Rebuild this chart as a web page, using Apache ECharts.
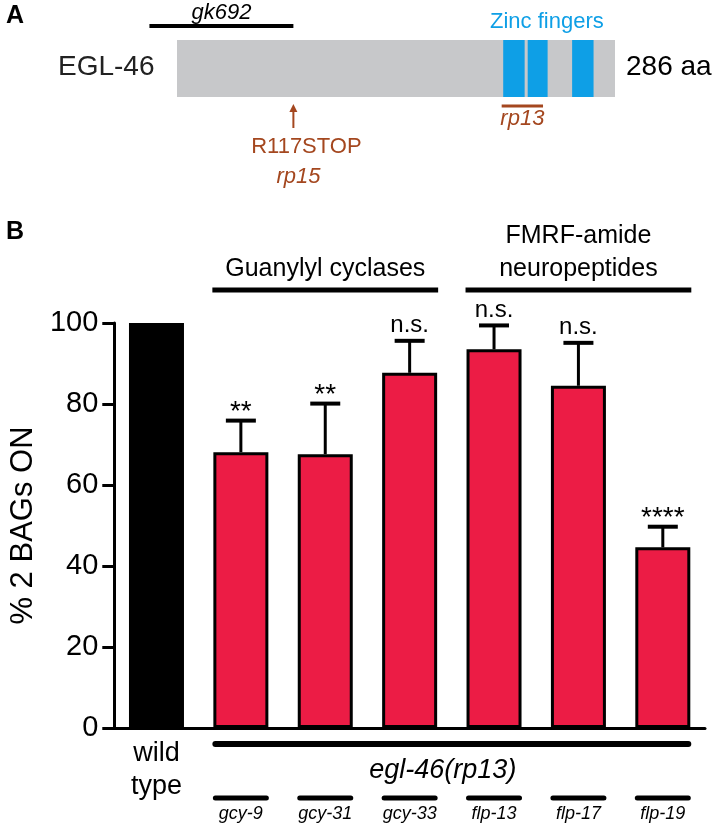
<!DOCTYPE html>
<html><head><meta charset="utf-8">
<script src="https://cdn.jsdelivr.net/npm/echarts@6/dist/echarts.min.js"></script>
<style>html,body{margin:0;padding:0;background:#fff}#c{width:717px;height:826px}</style>
</head><body><div id="c"></div>
<script>
// ---------- Panel B data ----------
const categories = ['wild type', 'gcy-9', 'gcy-31', 'gcy-33', 'flp-13', 'flp-17', 'flp-19'];
const percentOn = [100, 68.1, 67.6, 87.7, 93.5, 84.5, 44.6];
const sem = [0, 7.8, 12.5, 7.9, 5.9, 10.6, 5.1];
const significance = ['', '**', '**', 'n.s.', 'n.s.', 'n.s.', '****'];
const yTicks = [0, 20, 40, 60, 80, 100];
const groupNames = ['Guanylyl cyclases', 'FMRF-amide\nneuropeptides'];
const groupFrom = [1, 4];
const groupTo = [3, 6];
const backgroundName = 'egl-46(rp13)';
const wildTypeLabel = 'wild\ntype';
// ---------- Panel A data (positions along EGL-46, aa) ----------
const proteinName = 'EGL-46';
const proteinLength = 286;
const zincStart = [213, 229, 258];
const zincEnd = [227, 242, 272];
const gk692Range = [-18, 76];
const rp13Range = [212, 239];
const r117Position = 76;

const FONT = '"Liberation Sans", Arial, Helvetica, sans-serif';
const RED = '#EC1C45';
const BLUE = '#0E9FE6';
const BROWN = '#A4471F';
const GREY = '#C7C8CA';
const HALF = 28.5;

const chart = echarts.init(document.getElementById('c'), null, {renderer: 'canvas'});

const domains = [[0, proteinLength, 'protein']].concat(zincStart.map((s, i) => [s, zincEnd[i], 'zinc']));

const option = {
  animation: false,
  backgroundColor: '#fff',
  textStyle: {fontFamily: FONT},
  grid: [
    {left: 100, right: 12, top: 323, bottom: 98},
    {left: 177, width: 438, top: 40, height: 57}
  ],
  xAxis: [
    {type: 'category', gridIndex: 0, data: categories,
     axisLine: {lineStyle: {color: '#000', width: 3}},
     axisTick: {show: false}, axisLabel: {show: false}},
    {type: 'value', gridIndex: 1, min: 0, max: proteinLength, show: false}
  ],
  yAxis: [
    {type: 'value', gridIndex: 0, min: yTicks[0], max: yTicks[yTicks.length - 1], interval: 20,
     axisLine: {show: true, lineStyle: {color: '#000', width: 3}},
     axisTick: {show: true, length: 12, lineStyle: {color: '#000', width: 3}},
     axisLabel: {color: '#000', fontSize: 29, margin: 16, fontFamily: FONT},
     splitLine: {show: false},
     name: '% 2 BAGs ON', nameLocation: 'middle', nameRotate: 90, nameGap: 64,
     nameTextStyle: {color: '#000', fontSize: 31, fontFamily: FONT}},
    {type: 'value', gridIndex: 1, min: 0, max: 1, show: false}
  ],
  series: [
    {type: 'bar', xAxisIndex: 0, yAxisIndex: 0, barWidth: 55,
     data: percentOn.map((v, i) => i === 0
       ? {value: v, itemStyle: {color: '#000', borderColor: '#000', borderWidth: 5}}
       : {value: v, itemStyle: {color: RED, borderColor: '#000', borderWidth: 3}})},
    // error bars + significance
    {type: 'custom', xAxisIndex: 0, yAxisIndex: 0, clip: false, z: 5,
     data: percentOn.map((v, i) => [i, v, sem[i]]),
     renderItem: function (params, api) {
       const i = api.value(0);
       const e = api.value(2);
       const children = [];
       if (e > 0) {
         const top = api.coord([i, api.value(1)]);
         const cap = api.coord([i, api.value(1) + e]);
         children.push({type: 'line', shape: {x1: top[0], y1: top[1], x2: cap[0], y2: cap[1]},
           style: {stroke: '#000', lineWidth: 3}});
         children.push({type: 'line', shape: {x1: cap[0] - 15, y1: cap[1], x2: cap[0] + 15, y2: cap[1]},
           style: {stroke: '#000', lineWidth: 4}});
         const s = significance[i];
         const star = s.indexOf('*') >= 0;
         children.push({type: 'text', style: {text: s, x: cap[0], y: cap[1] - (star ? 8 : 15),
           textAlign: 'center', textVerticalAlign: 'middle', fill: '#000',
           font: (star ? '28px ' : '24px ') + FONT}});
       }
       return {type: 'group', children: children};
     }},
    // group brackets above
    {type: 'custom', xAxisIndex: 0, yAxisIndex: 0, clip: false, z: 5,
     data: groupNames.map((n, k) => [groupFrom[k], groupTo[k], yTicks[yTicks.length - 1]]),
     renderItem: function (params, api) {
       const k = params.dataIndex;
       const a = api.coord([api.value(0), api.value(2)]);
       const b = api.coord([api.value(1), api.value(2)]);
       const y = a[1] - 33;
       const xm = (a[0] + b[0]) / 2;
       return {type: 'group', children: [
         {type: 'line', shape: {x1: a[0] - HALF, y1: y, x2: b[0] + HALF, y2: y},
          style: {stroke: '#000', lineWidth: 5}},
         {type: 'text', style: {text: groupNames[k], x: xm, y: y - 4, textAlign: 'center',
          textVerticalAlign: 'bottom', fill: '#000', font: '25px ' + FONT, lineHeight: 33}}
       ]};
     }},
    // genotype labels below
    {type: 'custom', xAxisIndex: 0, yAxisIndex: 0, clip: false, z: 5,
     data: categories.map((c, i) => [i, 0]),
     renderItem: function (params, api) {
       const i = api.value(0);
       const p = api.coord([i, 0]);
       const children = [];
       if (i === 0) {
         children.push({type: 'text', style: {text: wildTypeLabel, x: p[0], y: p[1] + 42,
           textAlign: 'center', textVerticalAlign: 'middle', fill: '#000',
           font: '27px ' + FONT, lineHeight: 33}});
       } else {
         children.push({type: 'line', shape: {x1: p[0] - HALF + 3, y1: p[1] + 70, x2: p[0] + HALF - 3, y2: p[1] + 70},
           style: {stroke: '#000', lineWidth: 5, lineCap: 'round'}});
         children.push({type: 'text', style: {text: categories[i], x: p[0], y: p[1] + 86,
           textAlign: 'center', textVerticalAlign: 'middle', fill: '#000',
           font: 'italic 18px ' + FONT}});
       }
       if (i === 1) {
         const q = api.coord([categories.length - 1, 0]);
         children.push({type: 'line', shape: {x1: p[0] - HALF + 3, y1: p[1] + 16, x2: q[0] + HALF - 3, y2: p[1] + 16},
           style: {stroke: '#000', lineWidth: 6, lineCap: 'round'}});
         children.push({type: 'text', style: {text: backgroundName, x: (p[0] + q[0]) / 2 - 9, y: p[1] + 42,
           textAlign: 'center', textVerticalAlign: 'middle', fill: '#000',
           font: 'italic 27px ' + FONT}});
       }
       return {type: 'group', children: children};
     }},
    // Panel A protein + zinc fingers
    {type: 'custom', xAxisIndex: 1, yAxisIndex: 1, clip: false,
     data: domains,
     renderItem: function (params, api) {
       const a = api.coord([api.value(0), 1]);
       const b = api.coord([api.value(1), 0]);
       const isZinc = domains[params.dataIndex][2] === 'zinc';
       return {type: 'rect', shape: {x: a[0], y: a[1], width: b[0] - a[0], height: b[1] - a[1]},
         style: {fill: isZinc ? BLUE : GREY}};
     }},
    // Panel A alleles
    {type: 'custom', xAxisIndex: 1, yAxisIndex: 1, clip: false,
     data: [[gk692Range[0], gk692Range[1], 0], [rp13Range[0], rp13Range[1], 1], [r117Position, r117Position, 2]],
     renderItem: function (params, api) {
       const kind = api.value(2);
       const a = api.coord([api.value(0), 1]);
       const b = api.coord([api.value(1), 0]);
       if (kind === 0) {
         return {type: 'group', children: [
           {type: 'line', shape: {x1: a[0], y1: a[1] - 14, x2: b[0], y2: a[1] - 14}, style: {stroke: '#000', lineWidth: 4}},
           {type: 'text', style: {text: 'gk692', x: (a[0] + b[0]) / 2, y: a[1] - 27, textAlign: 'center',
             textVerticalAlign: 'middle', fill: '#000', font: 'italic 22px ' + FONT}}
         ]};
       } else if (kind === 1) {
         return {type: 'group', children: [
           {type: 'line', shape: {x1: a[0], y1: b[1] + 9, x2: b[0], y2: b[1] + 9}, style: {stroke: BROWN, lineWidth: 3}},
           {type: 'text', style: {text: 'rp13', x: (a[0] + b[0]) / 2, y: b[1] + 22, textAlign: 'center',
             textVerticalAlign: 'middle', fill: BROWN, font: 'italic 22px ' + FONT}}
         ]};
       }
       const x = a[0];
       const y0 = b[1] + 7;
       return {type: 'group', children: [
         {type: 'line', shape: {x1: x, y1: y0 + 4, x2: x, y2: y0 + 24}, style: {stroke: BROWN, lineWidth: 2}},
         {type: 'polygon', shape: {points: [[x, y0], [x - 4, y0 + 8], [x + 4, y0 + 8]]}, style: {fill: BROWN}},
         {type: 'text', style: {text: 'R117STOP', x: x + 13, y: y0 + 43, textAlign: 'center',
           textVerticalAlign: 'middle', fill: BROWN, font: '22px ' + FONT}},
         {type: 'text', style: {text: 'rp15', x: x + 5, y: y0 + 73, textAlign: 'center',
           textVerticalAlign: 'middle', fill: BROWN, font: 'italic 22px ' + FONT}}
       ]};
     }}
  ],
  graphic: [
    {type: 'text', left: 6, top: 4, style: {text: 'A', font: 'bold 25px ' + FONT, fill: '#000'}},
    {type: 'text', left: 6, top: 220, style: {text: 'B', font: 'bold 25px ' + FONT, fill: '#000'}},
    {type: 'text', left: 58, top: 53, style: {text: proteinName, font: '28px ' + FONT, fill: '#222'}},
    {type: 'text', left: 626, top: 53, style: {text: proteinLength + ' aa', font: '28px ' + FONT, fill: '#000'}},
    {type: 'text', left: 490, top: 11, style: {text: 'Zinc fingers', font: '22px ' + FONT, fill: BLUE}}
  ]
};
chart.setOption(option);
</script>
</body></html>
